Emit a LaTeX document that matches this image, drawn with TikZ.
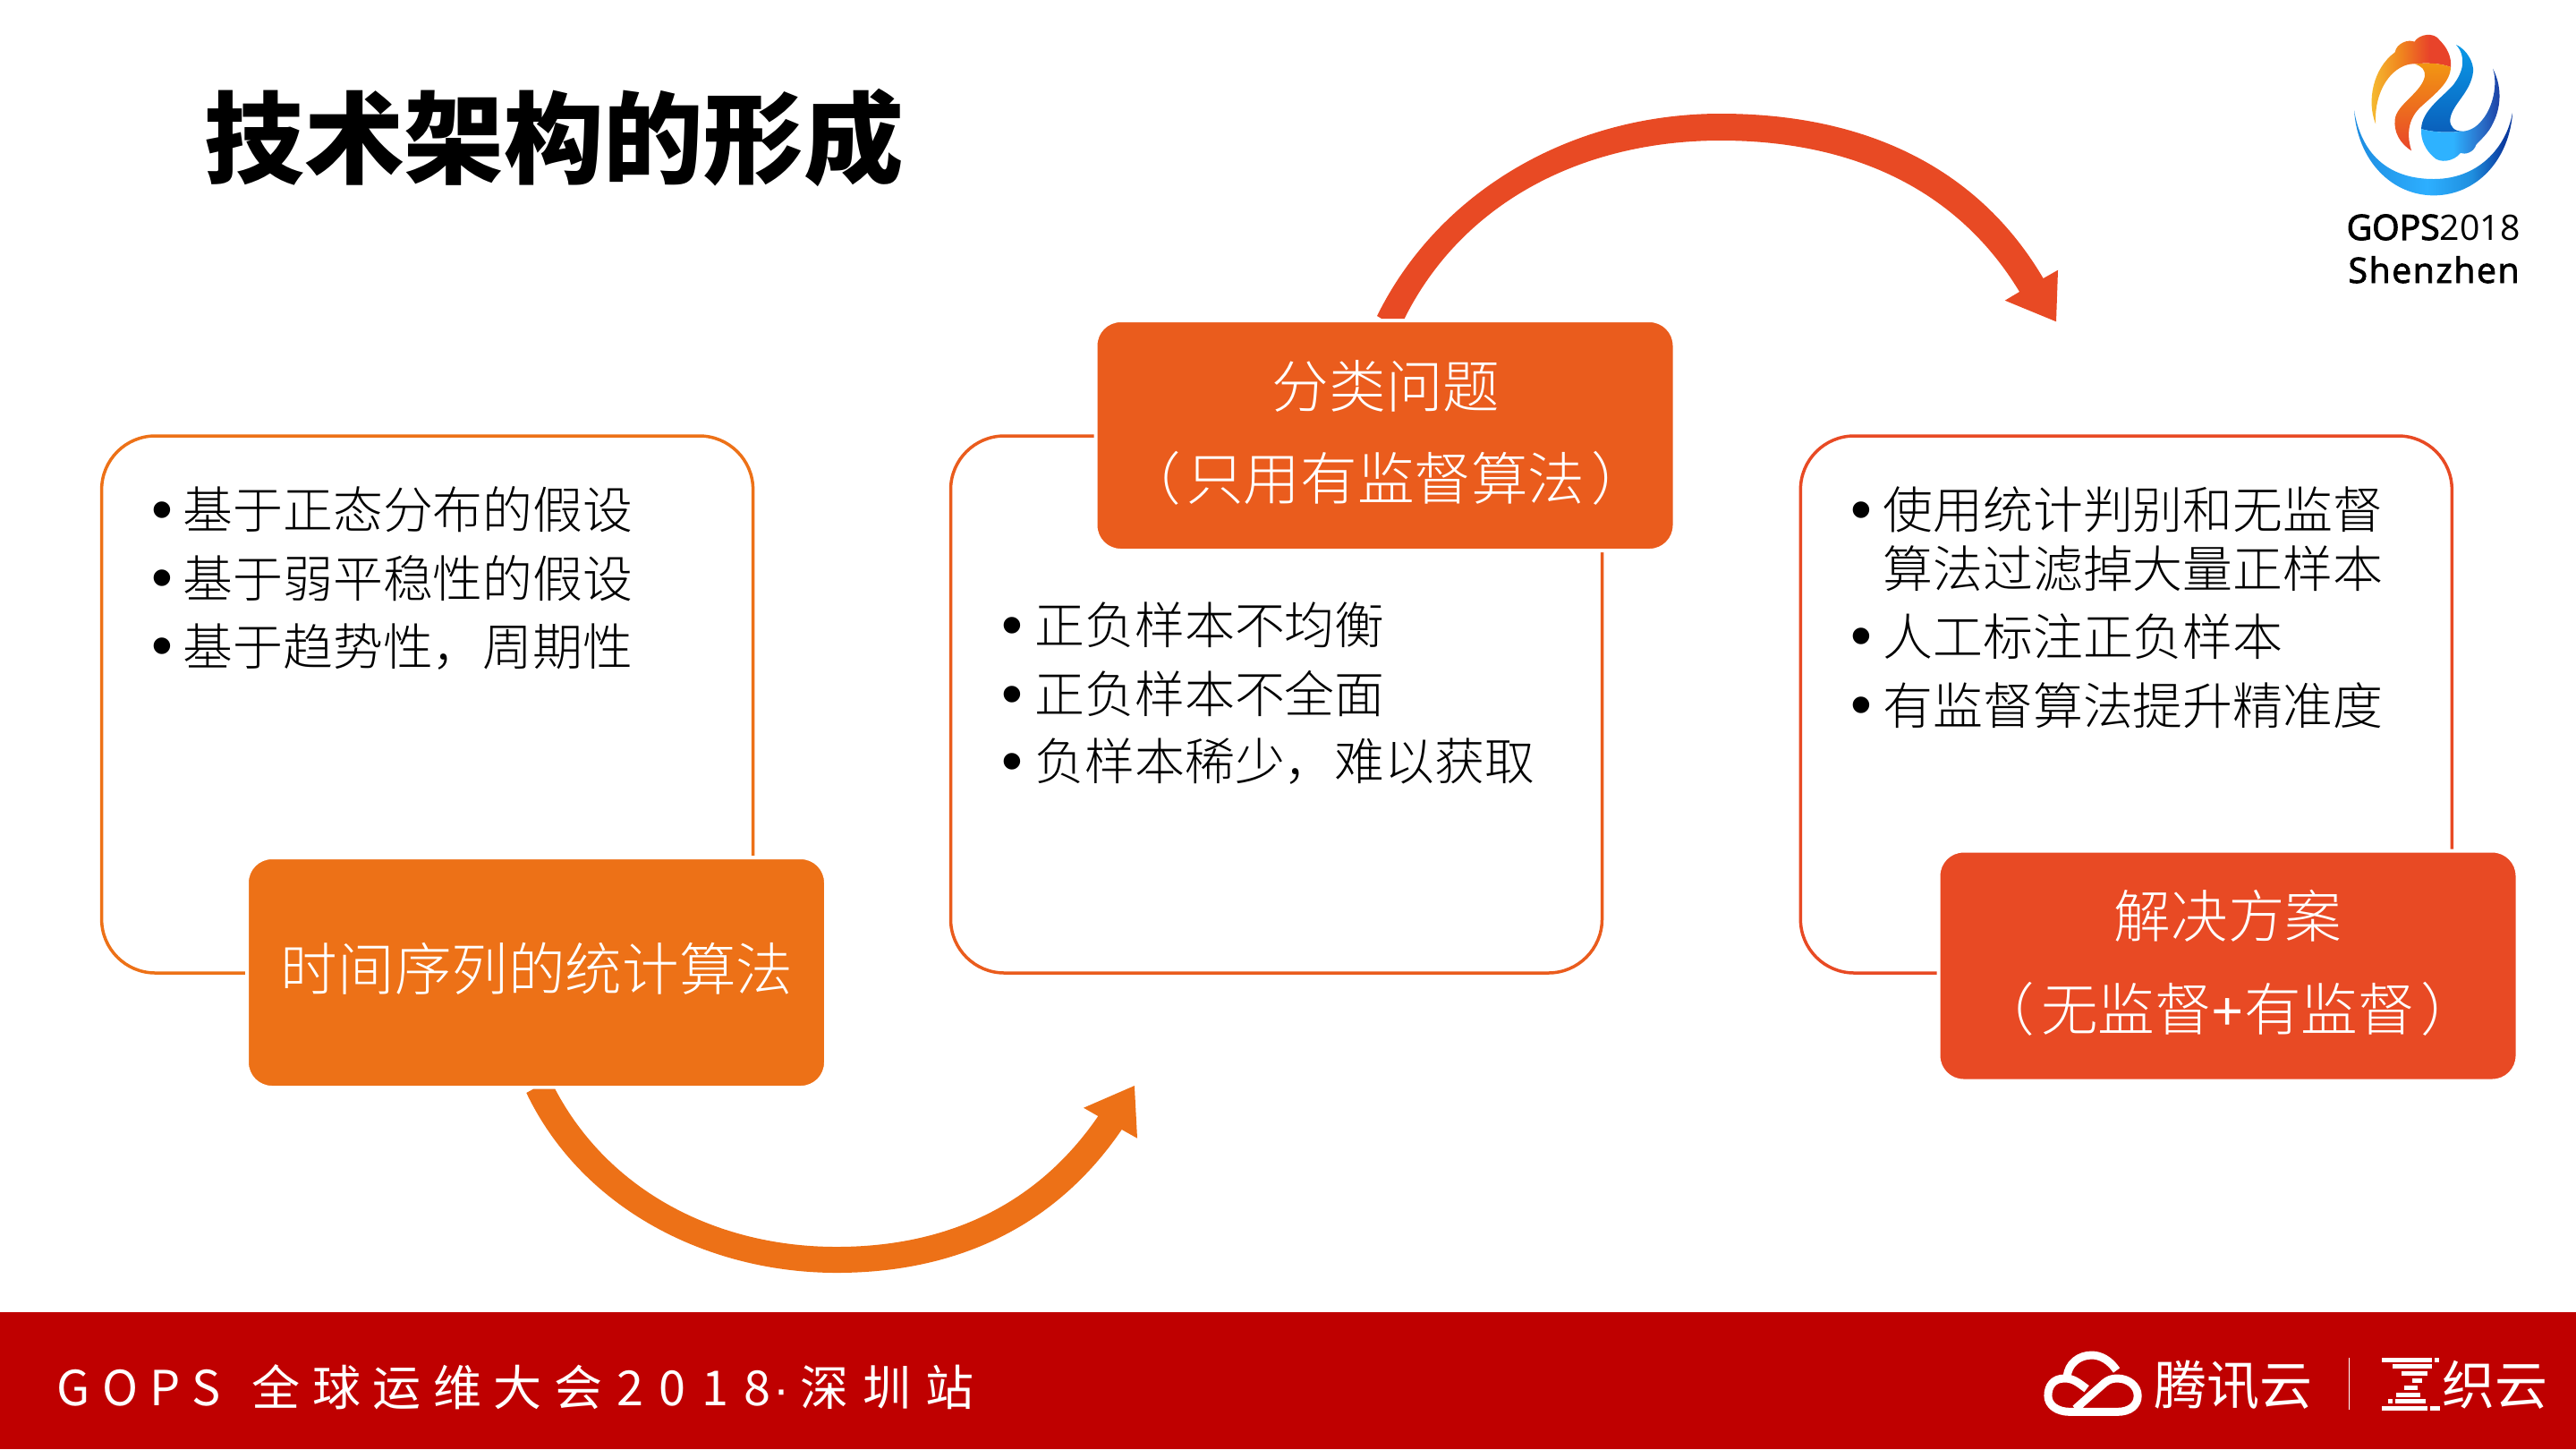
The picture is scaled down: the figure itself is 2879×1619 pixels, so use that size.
\documentclass[tikz,border=0pt]{standalone}
\usepackage{fontspec}
\setmainfont{Noto Sans CJK SC}
\newfontfamily\cjkbody{Noto Sans CJK SC Light}
\newfontfamily\cjktitle{Noto Sans CJK SC Black}
\newfontfamily\cjkfoot[LetterSpace=25]{Noto Sans CJK SC}
\newfontfamily\cjkfootdigits[LetterSpace=32]{Noto Sans CJK SC}
\newfontfamily\cjkfootend[LetterSpace=29]{Noto Sans CJK SC}
\newfontfamily\latinserif{Liberation Serif}
\newfontfamily\bulfont{Liberation Sans}
\newfontfamily\logofont{Open Sans}
\newfontfamily\logofontb[FakeBold=2.5]{Open Sans}
\newfontfamily\logofontwide[LetterSpace=4,FakeBold=2.2]{Open Sans}
\definecolor{cOrange}{HTML}{ED7117}
\definecolor{cMid}{HTML}{EA5C1D}
\definecolor{cRed}{HTML}{E84A24}
\definecolor{cBar}{HTML}{BF0000}
\definecolor{lY}{HTML}{F6C233}
\definecolor{lO}{HTML}{F0851E}
\definecolor{lR}{HTML}{E8432A}
\definecolor{lO2}{HTML}{F29712}
\definecolor{lR2}{HTML}{E8452A}
\definecolor{bA}{HTML}{0A9AE8}
\definecolor{bB}{HTML}{0A5FBB}
\definecolor{bC}{HTML}{2EB2FF}
\definecolor{bD}{HTML}{2A6FC8}
\definecolor{bE}{HTML}{1A3A9F}
\definecolor{crA}{HTML}{1E8CE0}
\definecolor{crB}{HTML}{2DAFFF}
\definecolor{crC}{HTML}{1F8FDF}
\definecolor{crD}{HTML}{0B3CA0}
\pgfdeclarehorizontalshading{logoCres}{100bp}{color(0bp)=(crA);color(25bp)=(crA);color(48bp)=(crB);color(62bp)=(crC);color(72bp)=(crD);color(75bp)=(crD);color(100bp)=(crD)}
\pgfdeclarehorizontalshading{logoFlame}{100bp}{color(0bp)=(lY);color(25bp)=(lY);color(45bp)=(lO);color(62bp)=(lR);color(75bp)=(lR);color(100bp)=(lR)}
\pgfdeclarehorizontalshading{logoWave}{100bp}{color(0bp)=(bC);color(25bp)=(bC);color(45bp)=(bC);color(62bp)=(bD);color(75bp)=(bE);color(100bp)=(bE)}
\tikzset{
  panel/.style={draw=#1,line width=1.75pt,rounded corners=30pt,minimum height=300pt,minimum width=364pt,inner sep=0pt},
  tagbox/.style={draw=white,line width=2pt,fill=#1,rounded corners=14pt,minimum width=323.5pt,minimum height=128.5pt,inner sep=0pt},
  body/.style={anchor=base west,inner sep=0pt,text=black,font=\cjkbody\fontsize{27.95}{30}\selectfont},
  bul/.style={anchor=base,inner sep=0pt,text=black,font=\bulfont\fontsize{34}{34}\selectfont},
  tagtext/.style={anchor=base,inner sep=0pt,text=white,font=\cjkbody\fontsize{31.8}{34}\selectfont},
  whitetext/.style={anchor=base,inner sep=0pt,text=white,font=\fontsize{29.5}{32}\selectfont},
  cloudline/.style={draw=white,line width=4.5pt,line cap=butt,line join=round}
}
\begin{document}
\begin{tikzpicture}[x=0.5pt,y=-0.5pt]
\useasboundingbox (0,0) rectangle (2879,1619);
\fill[white] (0,0) rectangle (2879,1619);
% footer
\fill[cBar] (0,1466) rectangle (2879,1619);
% panels
\node (p1) [panel=cOrange] at (477.6,787) {};
\node (p2) [panel=cMid] at (1426.5,787) {};
\node (p3) [panel=cRed] at (2376.3,787) {};
% tags
\node (tag1) [tagbox=cOrange] at (599.5,1086.5) {};
\node (tag2) [tagbox=cMid] at (1548,486.5) {};
\node (tag3) [tagbox=cRed] at (2490,1079) {};
\node (tag1a) [tagtext] at (600,1106) {时间序列的统计算法};
\node (tag2a) [tagtext] at (1549,455) {分类问题};
\node (tag2b) [tagtext] at (1549,558) {（\kern3.3pt只用有监督算法\kern3.3pt）};
\node (tag3a) [tagtext] at (2490,1047) {解决方案};
\node (tag3b) [tagtext] at (2490,1151) {（\kern3.3pt无监督{\latinserif\bfseries +}有监督\kern3.3pt）};
% title
\node (title) [anchor=base west,inner sep=0pt,text=black,font=\cjktitle\fontsize{55.8}{60}\selectfont] at (228,196) {技术架构的形成};
% panel 1 text
\node (b1a) [bul] at (181,592) {•};
\node (t1a) [body] at (204,590.5) {基于正态分布的假设};
\node (b1b) [bul] at (181,668) {•};
\node (t1b) [body] at (204,667) {基于弱平稳性的假设};
\node (b1c) [bul] at (181,744) {•};
\node (t1c) [body] at (204,743) {基于趋势性，周期性};
% panel 2 text
\node (b2a) [bul] at (1131,721) {•};
\node (t2a) [body] at (1156,719.5) {正负样本不均衡};
\node (b2b) [bul] at (1131,798) {•};
\node (t2b) [body] at (1156,796.5) {正负样本不全面};
\node (b2c) [bul] at (1131,873) {•};
\node (t2c) [body] at (1156,871.5) {负样本稀少，难以获取};
% panel 3 text
\node (b3a) [bul] at (2080,592) {•};
\node (t3a) [body] at (2104,590.5) {使用统计判别和无监督};
\node (t3a2) [body] at (2104,656) {算法过滤掉大量正样本};
\node (b3b) [bul] at (2080,733) {•};
\node (t3b) [body] at (2104,732) {人工标注正负样本};
\node (b3c) [bul] at (2080,810) {•};
\node (t3c) [body] at (2104,809) {有监督算法提升精准度};
% red arrow
\fill[cRed] (1539,353) -- (1544,356) -- (1569.6,356)
  .. controls (1635,225) and (1770,157) .. (1923,157)
  .. controls (2075,157) and (2190,215) .. (2257,326)
  -- (2240.7,335.7) -- (2298,359.3) -- (2300,301.7) -- (2283.6,311)
  .. controls (2213,191) and (2090,127) .. (1923,127)
  .. controls (1757,127) and (1608,213) .. (1539,353) -- cycle;
% orange arrow
\fill[cOrange] (588.3,1221) -- (596,1216.7) -- (620.4,1216.7)
  .. controls (680,1330) and (800,1393) .. (935,1393)
  .. controls (1060,1393) and (1160,1345) .. (1227.3,1247)
  -- (1211,1237.7) -- (1267.9,1213) -- (1271,1271.7) -- (1253.7,1262)
  .. controls (1180,1370) and (1070,1422) .. (935,1422)
  .. controls (790,1422) and (650,1350) .. (588.3,1221) -- cycle;
% top-right logo
\begin{scope}[shift={(2560,20)},x=0.16667pt,y=-0.16667pt]
\shade[shading=logoCres] (213,310) .. controls (225,480) and (340,595) .. (480,595)
  .. controls (620,595) and (735,480) .. (745,310)
  .. controls (730,420) and (640,540) .. (480,540)
  .. controls (340,540) and (240,470) .. (213,310) -- cycle;
\shade[shading=logoFlame] (285,355) .. controls (255,280) and (275,170) .. (350,115)
  .. controls (355,85) and (395,70) .. (415,80)
  .. controls (430,55) and (480,45) .. (500,75)
  .. controls (525,100) and (540,130) .. (537,165)
  .. controls (500,150) and (450,150) .. (400,155)
  .. controls (340,165) and (280,240) .. (285,355) -- cycle;
\shade[top color=lO2,bottom color=lR2] (537,165) .. controls (535,215) and (490,250) .. (440,295)
  .. controls (400,330) and (385,380) .. (405,445)
  .. controls (365,420) and (345,380) .. (350,340)
  .. controls (355,290) and (440,250) .. (450,195)
  .. controls (452,175) and (440,160) .. (415,155)
  .. controls (450,150) and (500,150) .. (537,165) -- cycle;
\shade[top color=bA,bottom color=bB] (555,90) .. controls (590,105) and (615,150) .. (612,180)
  .. controls (605,250) and (540,290) .. (535,340)
  .. controls (533,365) and (550,380) .. (575,380)
  .. controls (540,385) and (480,385) .. (438,372)
  .. controls (440,310) and (510,265) .. (545,225)
  .. controls (580,180) and (590,130) .. (555,90) -- cycle;
\shade[shading=logoWave] (438,372) .. controls (480,385) and (540,385) .. (575,380)
  .. controls (595,380) and (620,370) .. (640,345)
  .. controls (680,300) and (695,220) .. (678,170)
  .. controls (705,220) and (710,290) .. (680,350)
  .. controls (665,385) and (640,405) .. (622,425)
  .. controls (615,450) and (585,460) .. (570,452)
  .. controls (550,480) and (500,490) .. (478,465)
  .. controls (455,445) and (435,410) .. (438,372) -- cycle;
\end{scope}
\node (logoa) [anchor=base,inner sep=0pt,text=black,font=\logofont\fontsize{19.6}{22}\selectfont] at (2719.5,268) {{\logofontb GOPS}2018};
\node (logob) [anchor=base,inner sep=0pt,text=black,font=\logofontwide\fontsize{19.6}{22}\selectfont] at (2720,316) {Shenzhen};
% footer text
\node (foot) [anchor=base west,inner sep=0pt,text=white,font=\cjkfoot\fontsize{27}{30}\selectfont] at (63,1570) {GOPS\kern4.5pt\ 全球运维大会\kern8.3pt {\cjkfootdigits 2018}\kern1.5pt{\bulfont ·}\kern6.2pt {\cjkfootend 深圳站}};
% footer logos
\begin{scope}[shift={(2240,1470)},x=0.20375pt,y=-0.16667pt]
\draw[cloudline] (308,183) .. controls (290,150) and (265,132) .. (240,132) .. controls (205,132) and (175,160) .. (172,205);
\draw[cloudline] (226,245) .. controls (200,222) and (190,210) .. (165,210) .. controls (135,210) and (120,235) .. (120,268)
  .. controls (120,300) and (145,322) .. (180,322) -- (310,322)
  .. controls (345,322) and (366,300) .. (366,268) .. controls (366,235) and (340,210) .. (310,210)
  .. controls (295,210) and (285,215) .. (275,225) -- (195,312);
\draw[white,line width=0.8pt] (946,140) -- (946,315);
\foreach \xa/\ya/\xb/\yb in {1035/140/1172/155,1180/140/1193/155,1065/162/1172/178,1090/185/1160/202,1118/210/1146/225,1097/234/1133/249,1075/257/1142/272,1052/280/1065/295,1072/280/1155/295,1035/303/1160/318,1168/303/1194/318}
  \fill[white] (\xa,\ya) rectangle (\xb,\yb);
\end{scope}
\node (tencent) [whitetext] at (2496,1569) {腾讯云};
\node (zhiyun) [whitetext] at (2788,1569) {织云};
\end{tikzpicture}
\end{document}
